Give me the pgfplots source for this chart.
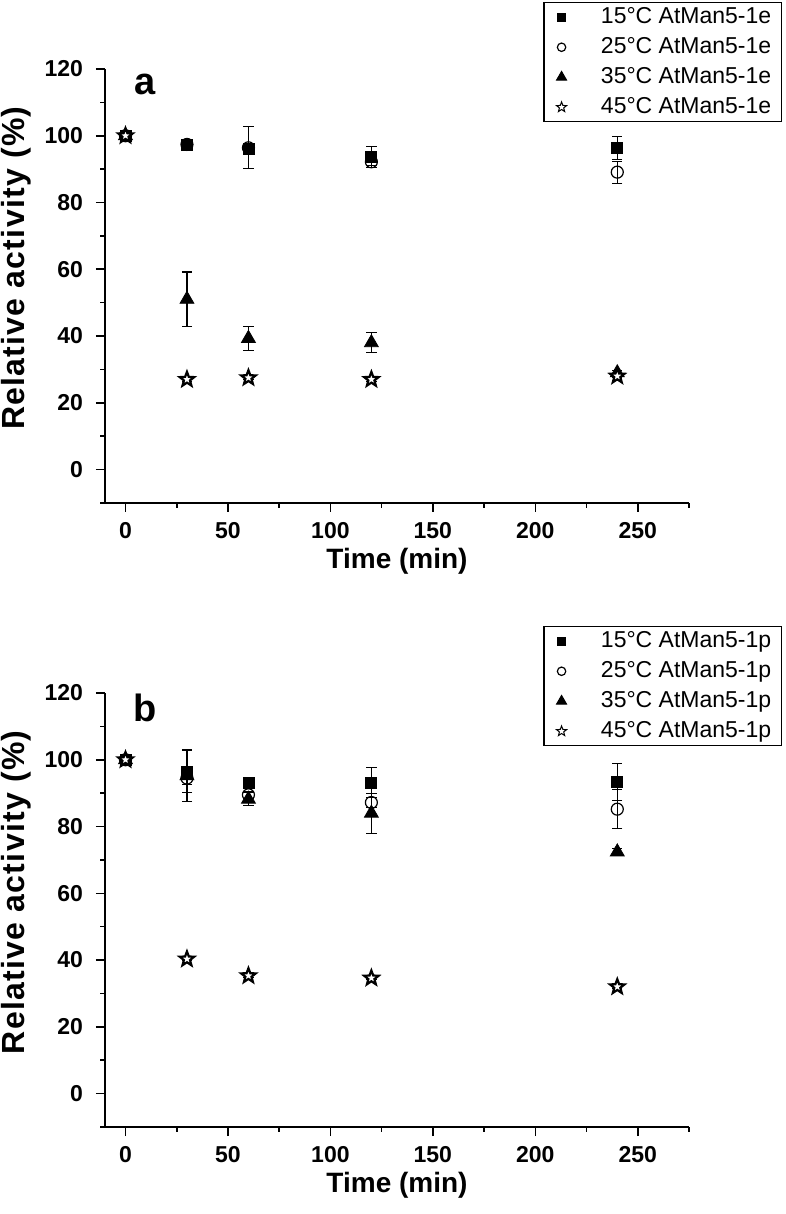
\documentclass[border=0pt]{standalone}
\usepackage{fontspec}
\setmainfont{Liberation Sans}
\usepackage{pgfplots}
\pgfplotsset{compat=1.18}
\usepackage{pgfplotstable}

\pgfdeclareplotmark{ostar}{%
  \pgfpathmoveto{\pgfpointpolar{90}{\pgfplotmarksize}}%
  \pgfpathlineto{\pgfpointpolar{126}{0.42\pgfplotmarksize}}%
  \pgfpathlineto{\pgfpointpolar{162}{\pgfplotmarksize}}%
  \pgfpathlineto{\pgfpointpolar{198}{0.42\pgfplotmarksize}}%
  \pgfpathlineto{\pgfpointpolar{234}{\pgfplotmarksize}}%
  \pgfpathlineto{\pgfpointpolar{270}{0.42\pgfplotmarksize}}%
  \pgfpathlineto{\pgfpointpolar{306}{\pgfplotmarksize}}%
  \pgfpathlineto{\pgfpointpolar{342}{0.42\pgfplotmarksize}}%
  \pgfpathlineto{\pgfpointpolar{18}{\pgfplotmarksize}}%
  \pgfpathlineto{\pgfpointpolar{54}{0.42\pgfplotmarksize}}%
  \pgfpathclose
  \pgfusepathqfillstroke
}

% Panel a
\pgfplotstableread{
x y e
0 100 0
30 97.4 1.0
60 96.0 1.0
120 93.7 3.2
240 96.3 3.5
}\aA
\pgfplotstableread{
x y e
0 100 0
30 97.4 1.0
60 96.4 6.3
120 92.2 1.2
240 89.1 3.3
}\aB
\pgfplotstableread{
x y e
0 100 0
30 51.0 8.2
60 39.3 3.6
120 38.0 3.0
240 29.0 0.8
}\aC
\pgfplotstableread{
x y e
0 100 0
30 27.0 0.5
60 27.5 0.5
120 27.0 0.5
240 28.0 0.5
}\aD
% Panel b
\pgfplotstableread{
x y e
0 100 0
30 96.5 6.3
60 93.2 1.0
120 93.2 4.5
240 93.4 5.5
}\bA
\pgfplotstableread{
x y e
0 100 0
30 94.5 2.0
60 89.5 1.0
120 87.2 1.5
240 85.2 5.8
}\bB
\pgfplotstableread{
x y e
0 100 0
30 95.2 7.8
60 88.2 2.0
120 84.0 6.0
240 72.4 1.0
}\bC
\pgfplotstableread{
x y e
0 100 0
30 40.3 0.5
60 35.3 0.5
120 34.6 0.5
240 32.0 0.5
}\bD

\pgfplotsset{
  myaxis/.style={
    scale only axis, width=292pt, height=217pt,
    xmin=-10, xmax=275, ymin=-10, ymax=120,
    axis lines=left, axis line style={-, line width=0.8pt},
    xtick={0,50,...,250}, ytick={0,20,...,120},
    minor xtick={25,75,...,275}, minor ytick={-10,10,30,...,110},
    tick align=outside, major tick length=4.5pt, minor tick length=2.3pt,
    every tick/.style={line width=0.8pt, black},
    ticklabel style={font=\bfseries\fontsize{11.5}{13}\selectfont},
    yticklabel style={xshift=-3pt},
    xticklabel style={yshift=-1.5pt},
    /pgf/number format/assume math mode=true,
    xlabel={Time (min)}, ylabel={Relative activity (\%)},
    xlabel style={font=\bfseries\fontsize{14}{16}\selectfont, yshift=2pt},
    ylabel style={font=\bfseries\fontsize{16}{18}\selectfont\addfontfeature{LetterSpace=4}, at={(ticklabel cs:0.541)}, yshift=0pt},
    legend style={at={(rel axis cs:1.159,1.154)}, anchor=north east, draw=black, line width=0.6pt,
      font=\fontsize{11.5}{13}\selectfont, row sep=4pt, inner xsep=3pt, inner ysep=1.75pt,
      nodes={inner ysep=0pt, text height=8.5pt, text depth=2.5pt}},
    legend cell align=left,
    legend image code/.code={\path (-5.5pt,0pt) (17.4pt,0pt); \draw[##1, every mark/.append style={scale=0.7}] plot coordinates {(0pt,0pt)};},
    clip=false,
    error bars/y dir=both, error bars/y explicit,
    error bars/error bar style={line width=0.6pt, black},
    error bars/error mark options={rotate=90, mark size=2.6pt, line width=0.6pt, black},
  },
  sq/.style={only marks, mark=square*, mark size=2.75pt, mark options={fill=black, draw=black}},
  ci/.style={only marks, mark=o, mark size=3pt, mark options={fill=white, draw=black, line width=0.6pt}},
  tr/.style={only marks, mark=triangle*, mark size=4pt, mark options={fill=black, draw=black}},
  st/.style={only marks, mark=ostar, mark size=3.8pt, mark options={fill=white, draw=black, line width=1.1pt},
    legend image post style={mark options={fill=white, draw=black, line width=0.5pt}}},
}

\begin{document}
\begin{tikzpicture}
\useasboundingbox (0pt,0pt) rectangle (393pt,607pt);
\begin{axis}[myaxis, at={(52.5pt,355.5pt)}, anchor=south west]
\addplot+[sq] table[x=x,y=y,y error=e] {\aA};
\addlegendentry{15°C AtMan5-1e}
\addplot+[ci] table[x=x,y=y,y error=e] {\aB};
\addlegendentry{25°C AtMan5-1e}
\addplot+[tr] table[x=x,y=y,y error=e] {\aC};
\addlegendentry{35°C AtMan5-1e}
\addplot+[st] table[x=x,y=y,y error=e] {\aD};
\addlegendentry{45°C AtMan5-1e}
\node[font=\bfseries\fontsize{19}{19}\selectfont] at (rel axis cs:0.068,0.965) {a};
\end{axis}
\begin{axis}[myaxis, at={(52.5pt,43.5pt)}, anchor=south west]
\addplot+[sq] table[x=x,y=y,y error=e] {\bA};
\addlegendentry{15°C AtMan5-1p}
\addplot+[ci] table[x=x,y=y,y error=e] {\bB};
\addlegendentry{25°C AtMan5-1p}
\addplot+[tr] table[x=x,y=y,y error=e] {\bC};
\addlegendentry{35°C AtMan5-1p}
\addplot+[st] table[x=x,y=y,y error=e] {\bD};
\addlegendentry{45°C AtMan5-1p}
\node[font=\bfseries\fontsize{19}{19}\selectfont] at (rel axis cs:0.068,0.965) {b};
\end{axis}
\end{tikzpicture}
\end{document}
